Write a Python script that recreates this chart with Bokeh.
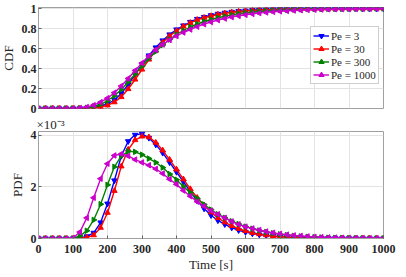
import math
from bokeh.plotting import figure
from bokeh.layouts import column
from bokeh.models import Legend, LegendItem, FixedTicker, Range1d
from bokeh.embed import file_html
from bokeh.resources import INLINE

# ---------------- data ----------------
time_s = list(range(0, 1001, 20))

labels = ["Pe = 3", "Pe = 30", "Pe = 300", "Pe = 1000"]

cdf_pe3 = [0, 0, 0, 0, 0, 0,
           0.001, 0.004, 0.012, 0.025, 0.045,
           0.085, 0.15, 0.24, 0.34, 0.44,
           0.53, 0.61, 0.68, 0.74, 0.79,
           0.83, 0.865, 0.895, 0.915, 0.932,
           0.946, 0.957, 0.966, 0.973, 0.978,
           0.983, 0.987, 0.99, 0.992, 0.994,
           0.995, 0.996, 0.997, 0.998, 0.998,
           0.999, 0.999, 0.999, 1, 1,
           1, 1, 1, 1, 1]
cdf_pe30 = [0, 0, 0, 0, 0, 0,
            0.0, 0.002, 0.007, 0.016, 0.032,
            0.063, 0.115, 0.195, 0.29, 0.39,
            0.49, 0.58, 0.66, 0.725, 0.775,
            0.82, 0.857, 0.887, 0.908, 0.925,
            0.94, 0.952, 0.962, 0.97, 0.976,
            0.981, 0.985, 0.988, 0.991, 0.993,
            0.995, 0.996, 0.997, 0.998, 0.998,
            0.999, 0.999, 0.999, 1, 1,
            1, 1, 1, 1, 1]
cdf_pe300 = [0, 0, 0, 0, 0, 0,
             0.002, 0.007, 0.02, 0.042, 0.077,
             0.127, 0.19, 0.265, 0.345, 0.425,
             0.5, 0.57, 0.635, 0.69, 0.74,
             0.78, 0.815, 0.845, 0.87, 0.89,
             0.908, 0.923, 0.936, 0.947, 0.956,
             0.964, 0.97, 0.975, 0.98, 0.984,
             0.987, 0.99, 0.992, 0.994, 0.995,
             0.996, 0.997, 0.998, 0.998, 0.999,
             0.999, 0.999, 1, 1, 1]
cdf_pe1000 = [0, 0, 0, 0, 0, 0.001,
              0.004, 0.014, 0.033, 0.063, 0.103,
              0.158, 0.225, 0.3, 0.38, 0.455,
              0.525, 0.585, 0.64, 0.685, 0.725,
              0.76, 0.79, 0.818, 0.843, 0.865,
              0.884, 0.9, 0.914, 0.926, 0.937,
              0.946, 0.954, 0.961, 0.967, 0.972,
              0.976, 0.98, 0.983, 0.986, 0.988,
              0.99, 0.992, 0.993, 0.994, 0.995,
              0.996, 0.997, 0.998, 0.998, 0.999]

# PDF values in units of 1e-3
pdf_pe3 = [0, 0, 0, 0, 0, 0,
           0.02, 0.08, 0.22, 0.62, 1.35,
           2.25, 3.2, 3.77, 4.02, 4.06,
           3.9, 3.64, 3.32, 2.95, 2.58,
           2.2, 1.82, 1.46, 1.16, 0.9,
           0.7, 0.55, 0.42, 0.32, 0.25,
           0.19, 0.15, 0.12, 0.09, 0.07,
           0.055, 0.04, 0.03, 0.02, 0.015,
           0.01, 0.008, 0.005, 0.004, 0.003,
           0.002, 0.001, 0.001, 0.0, 0.0]
pdf_pe30 = [0, 0, 0, 0, 0, 0,
            0.01, 0.04, 0.13, 0.42, 1.0,
            1.85, 2.8, 3.45, 3.82, 3.96,
            3.93, 3.72, 3.42, 3.06, 2.68,
            2.3, 1.92, 1.58, 1.28, 1.02,
            0.8, 0.63, 0.49, 0.38, 0.29,
            0.22, 0.17, 0.13, 0.1, 0.075,
            0.056, 0.042, 0.031, 0.023, 0.017,
            0.012, 0.009, 0.006, 0.004, 0.003,
            0.002, 0.001, 0.001, 0.0, 0.0]
pdf_pe300 = [0, 0, 0, 0, 0, 0,
             0.1, 0.3, 0.72, 1.33, 2.08,
             2.78, 3.2, 3.38, 3.36, 3.25,
             3.1, 2.95, 2.75, 2.5, 2.28,
             2.02, 1.78, 1.55, 1.32, 1.12,
             0.94, 0.8, 0.67, 0.56, 0.46,
             0.38, 0.31, 0.25, 0.2, 0.16,
             0.13, 0.1, 0.08, 0.065, 0.05,
             0.04, 0.03, 0.024, 0.018, 0.014,
             0.011, 0.008, 0.006, 0.005, 0.004]
pdf_pe1000 = [0, 0, 0, 0, 0, 0.02,
              0.25, 0.8, 1.58, 2.32, 2.9,
              3.22, 3.28, 3.2, 3.06, 2.95,
              2.84, 2.7, 2.52, 2.3, 2.1,
              1.86, 1.64, 1.43, 1.25, 1.08,
              0.94, 0.8, 0.66, 0.55, 0.46,
              0.39, 0.33, 0.27, 0.22, 0.18,
              0.15, 0.12, 0.1, 0.08, 0.065,
              0.052, 0.042, 0.034, 0.027, 0.022,
              0.017, 0.014, 0.011, 0.009, 0.007]

x_ticks = [0, 100, 200, 300, 400, 500, 600, 700, 800, 900, 1000]
cdf_ticks = [0, 0.2, 0.4, 0.6, 0.8, 1]
cdf_tick_labels = {0: "0", 0.2: "0.2", 0.4: "0.4", 0.6: "0.6", 0.8: "0.8", 1: "1"}
pdf_ticks = [0, 2, 4]

# ---------------- styling ----------------
FONT = "Liberation Serif"
colors = ["#0000ff", "#ff0000", "#008000", "#cc00cc"]
markers = [("inverted_triangle", 0.0), ("triangle", 0.0),
           ("triangle", -math.pi / 2), ("triangle", math.pi / 2)]
AX = "#a0a0a0"
GRID = "#e3e3e3"


def style(p):
    p.outline_line_color = AX
    p.outline_line_width = 1
    p.background_fill_color = "white"
    p.border_fill_color = "white"
    for ax in (p.xaxis[0], p.yaxis[0]):
        ax.axis_line_color = AX
        ax.major_tick_line_color = "#606060"
        ax.major_tick_in = 3
        ax.major_tick_out = 0
        ax.minor_tick_line_color = None
        ax.major_label_text_font = FONT
        ax.major_label_text_font_style = "bold"
        ax.major_label_text_font_size = "12px"
        ax.major_label_text_color = "#262626"
        ax.axis_label_text_font = FONT
        ax.axis_label_text_font_style = "normal"
        ax.axis_label_text_font_size = "13px"
        ax.axis_label_text_color = "#262626"
    p.xgrid.grid_line_color = GRID
    p.ygrid.grid_line_color = GRID
    p.xaxis.ticker = FixedTicker(ticks=x_ticks)
    p.yaxis.major_label_standoff = 2
    p.yaxis.axis_label_standoff = 3


def draw(p, series):
    items = []
    for ys, c, (mk, ang), lab in zip(series, colors, markers, labels):
        r1 = p.line(time_s, ys, line_color=c, line_width=1.4)
        r2 = p.scatter(time_s, ys, marker=mk, angle=ang, size=5.5,
                       fill_color=c, line_color=c)
        items.append(LegendItem(label=lab, renderers=[r1, r2]))
    return items


# ---- top: CDF ----
p1 = figure(width=401, height=114, output_backend="svg", toolbar_location=None,
            x_range=Range1d(0, 1000), y_range=Range1d(0, 1.01),
            min_border_left=33, min_border_right=15, min_border_top=7,
            min_border_bottom=6)
style(p1)
p1.xaxis.visible = False
p1.yaxis.ticker = FixedTicker(ticks=cdf_ticks)
p1.yaxis.major_label_overrides = cdf_tick_labels
p1.yaxis.axis_label = "CDF"
items = draw(p1, [cdf_pe3, cdf_pe30, cdf_pe300, cdf_pe1000])
leg = Legend(items=items, location=(272, 24))
leg.label_text_font = FONT
leg.label_text_font_size = "11px"
leg.label_text_color = "#262626"
leg.label_height = 13
leg.glyph_height = 13
leg.glyph_width = 16
leg.spacing = 0
leg.padding = 2
leg.margin = 0
leg.label_standoff = 2
leg.border_line_color = AX
leg.background_fill_alpha = 1
p1.add_layout(leg)

# ---- bottom: PDF ----
p2 = figure(width=401, height=160, output_backend="svg", toolbar_location=None,
            x_range=Range1d(0, 1000), y_range=Range1d(0, 4.15),
            min_border_left=33, min_border_right=15, min_border_top=16,
            min_border_bottom=36, title="×10⁻³")
style(p2)
p2.title.text_font = FONT
p2.title.text_font_size = "13px"
p2.title.text_font_style = "normal"
p2.title.text_color = "#262626"
p2.title.standoff = 0
p2.title.offset = -2
p2.yaxis.ticker = FixedTicker(ticks=pdf_ticks)
p2.yaxis.axis_label = "PDF"
p2.xaxis.axis_label = "Time [s]"
p2.xaxis.major_label_standoff = 6
p2.xaxis.axis_label_standoff = 1
draw(p2, [pdf_pe3, pdf_pe30, pdf_pe300, pdf_pe1000])

layout = column(p1, p2, spacing=0)
layout.styles = {"margin-left": "-3px"}

open("out.html", "w").write(file_html(layout, INLINE))
